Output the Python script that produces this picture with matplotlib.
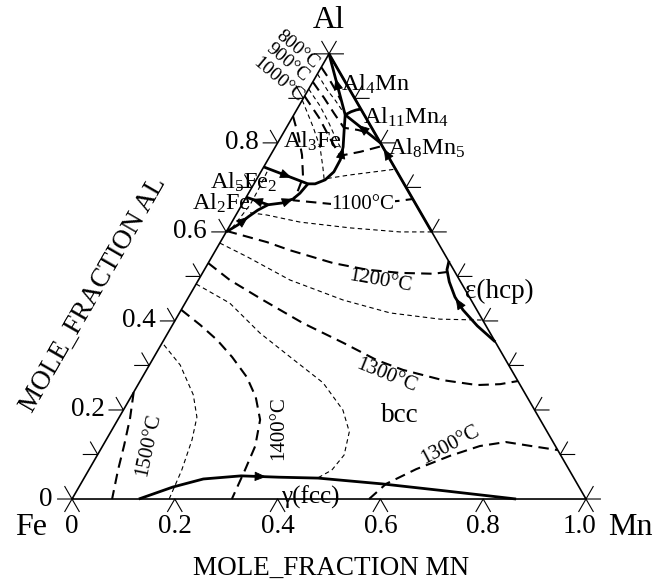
import numpy as np
import matplotlib
matplotlib.use("Agg")
import matplotlib.pyplot as plt

# ===========================
# Fonts
# ===========================

plt.rcParams["font.family"] = ["Liberation Serif", "DejaVu Serif"]
plt.rcParams["mathtext.fontset"] = "custom"
plt.rcParams["mathtext.rm"] = "Liberation Serif"
plt.rcParams["mathtext.it"] = "Liberation Serif:italic"

# ===========================
# Data  (x_Mn, x_Al)
# ===========================

# univariant (solid) lines
al_apex_mn = [0.0, 0.100]
al_apex_al = [1.0, 0.863]

al3fe_mn = [0.100, 0.115, 0.132, 0.141, 0.142, 0.134, 0.119, 0.105]
al3fe_al = [0.863, 0.829, 0.791, 0.762, 0.735, 0.717, 0.708, 0.708]

al5fe2_mn = [0.0, 0.105]
al5fe2_al = [0.746, 0.708]

bcc_top_mn = [0.105, 0.100, 0.093, 0.076, 0.051, 0.037, 0.026, 0.015, 0.0]
bcc_top_al = [0.708, 0.687, 0.674, 0.665, 0.661, 0.649, 0.634, 0.616, 0.600]

al2fe_mn = [0.051, 0.0]
al2fe_al = [0.661, 0.678]

al4mn_mn = [0.100, 0.108, 0.116, 0.124]
al4mn_al = [0.863, 0.870, 0.874, 0.876]

al8mn5_mn = [0.100, 0.200]
al8mn5_al = [0.863, 0.800]

mn_edge_mn = [0.0, 0.400]
mn_edge_al = [1.0, 0.600]

hcp_mn = [0.466, 0.472, 0.490, 0.518, 0.548, 0.594, 0.647]
hcp_al = [0.535, 0.515, 0.488, 0.454, 0.425, 0.389, 0.353]

fcc_mn = [0.130, 0.183, 0.233, 0.303, 0.378, 0.455, 0.586, 0.719, 0.864]
fcc_al = [0.0, 0.027, 0.045, 0.052, 0.049, 0.047, 0.034, 0.018, 0.0]

# labelled isotherms (thick dashed)
t800_mn = [0.0, 0.028, 0.055, 0.075]
t800_al = [0.970, 0.944, 0.917, 0.896]
t900_mn = [0.0, 0.040, 0.076, 0.112, 0.142, 0.167]
t900_al = [0.937, 0.901, 0.867, 0.834, 0.829, 0.822]
t1000_mn = [0.0, 0.053, 0.096, 0.136, 0.171, 0.207]
t1000_al = [0.905, 0.856, 0.811, 0.771, 0.780, 0.793]
t1100_mn = [0.0, 0.031, 0.061, 0.088, 0.093, 0.095, 0.171, 0.239, 0.303, 0.326]
t1100_al = [0.860, 0.818, 0.773, 0.723, 0.694, 0.671, 0.663, 0.663, 0.670, 0.674]
t1200_mn = [0.0, 0.091, 0.144, 0.243, 0.317, 0.384, 0.450, 0.475]
t1200_al = [0.602, 0.577, 0.559, 0.530, 0.515, 0.508, 0.506, 0.510]
t1300a_mn = [0.0, 0.061, 0.148, 0.252, 0.352, 0.437, 0.499, 0.588, 0.660, 0.704, 0.735]
t1300a_al = [0.530, 0.492, 0.447, 0.395, 0.351, 0.312, 0.290, 0.267, 0.256, 0.258, 0.265]
t1300b_mn = [0.578, 0.594, 0.636, 0.687, 0.734, 0.780, 0.834, 0.890]
t1300b_al = [0.0, 0.034, 0.067, 0.097, 0.119, 0.128, 0.119, 0.110]
t1400_mn = [0.0, 0.054, 0.104, 0.152, 0.203, 0.243, 0.277, 0.297, 0.304, 0.311]
t1400_al = [0.425, 0.391, 0.357, 0.319, 0.274, 0.229, 0.178, 0.119, 0.065, 0.0]
t1500_mn = [0.0, 0.022, 0.041, 0.057, 0.078]
t1500_al = [0.240, 0.182, 0.121, 0.065, 0.0]

# intermediate isotherms (thin dashed)
t850_mn = [0.0, 0.037, 0.064, 0.088]
t850_al = [0.955, 0.919, 0.896, 0.874]
t950_mn = [0.0, 0.041, 0.079, 0.109, 0.133]
t950_al = [0.921, 0.883, 0.843, 0.809, 0.784]
t1050_mn = [0.0, 0.051, 0.087, 0.115, 0.131, 0.177, 0.259]
t1050_al = [0.896, 0.836, 0.791, 0.746, 0.719, 0.728, 0.741]
t1150_mn = [0.025, 0.060, 0.133, 0.237, 0.338, 0.400]
t1150_al = [0.643, 0.638, 0.622, 0.609, 0.600, 0.600]
t1250_mn = [0.0, 0.069, 0.178, 0.304, 0.410, 0.514, 0.598]
t1250_al = [0.575, 0.544, 0.492, 0.447, 0.418, 0.404, 0.402]
t1350_mn = [0.0, 0.087, 0.179, 0.265, 0.358, 0.427, 0.464, 0.480, 0.473, 0.452]
t1350_al = [0.483, 0.440, 0.373, 0.319, 0.261, 0.200, 0.151, 0.099, 0.065, 0.045]
t1450_mn = [0.189, 0.181, 0.167, 0.151, 0.119, 0.060, 0.0]
t1450_al = [0.0, 0.065, 0.133, 0.184, 0.234, 0.301, 0.351]
fe_side_mn = [0.012, 0.015, 0.016, 0.011, 0.007]
fe_side_al = [0.735, 0.694, 0.661, 0.631, 0.609]

tick_values = [0.0, 0.2, 0.4, 0.6, 0.8, 1.0]
tick_labels = ["0", "0.2", "0.4", "0.6", "0.8", "1.0"]

# ===========================
# Helpers
# ===========================

H = np.sqrt(3) / 2


def to_xy(mn, al):
    mn = np.asarray(mn, dtype=float)
    al = np.asarray(al, dtype=float)
    return mn + 0.5 * al, H * al


def curve(ax, mn, al, **kw):
    x, y = to_xy(mn, al)
    ax.plot(x, y, color="black", solid_capstyle="butt", **kw)


def arrow(ax, mn, al, i, reverse=False):
    x, y = to_xy(mn, al)
    p0 = np.array([x[i], y[i]])
    p1 = np.array([x[i + 1], y[i + 1]])
    if reverse:
        p0, p1 = p1, p0
    mid = (p0 + p1) / 2
    d = (p1 - p0) / np.hypot(*(p1 - p0))
    ax.annotate("", xy=mid + d * 0.012, xytext=mid - d * 0.002,
                arrowprops=dict(arrowstyle="-|>,head_length=0.6,head_width=0.25",
                                color="black", lw=0.6, shrinkA=0, shrinkB=0,
                                mutation_scale=12))


thick = dict(lw=1.5, linestyle=(0, (5, 3)))
thin = dict(lw=0.8, linestyle=(0, (4, 3)))
bold = dict(lw=2.0)

# ===========================
# Figure
# ===========================

fig = plt.figure(figsize=(6.71, 5.83), dpi=100)
ax = fig.add_axes([0, 0, 1, 1])
ax.set_xlim(-0.1401, 1.1654)
ax.set_ylim(-0.1634, 0.9708)
ax.axis("off")

# triangle
curve(ax, [0, 1, 0, 0], [0, 0, 1, 0], lw=1.2)

# ticks
L = 0.028
for v in np.arange(0, 1.01, 0.2):
    ax.plot([v - 0.5 * L, v, v + 0.5 * L], [-H * L, 0, -H * L], color="black", lw=0.8)
for v in np.arange(0, 1.01, 0.1):
    x, y = to_xy(0, v)
    ax.plot([x - L, x, x - 0.5 * L], [y, y, y + H * L], color="black", lw=0.8)
    x, y = to_xy(1 - v, v)
    ax.plot([x + L, x, x + 0.5 * L], [y, y, y + H * L], color="black", lw=0.8)

# isotherms
for mn, al in [(t800_mn, t800_al), (t900_mn, t900_al), (t1000_mn, t1000_al),
               (t1100_mn, t1100_al), (t1200_mn, t1200_al), (t1300a_mn, t1300a_al),
               (t1300b_mn, t1300b_al), (t1400_mn, t1400_al), (t1500_mn, t1500_al)]:
    curve(ax, mn, al, **thick)
for mn, al in [(t850_mn, t850_al), (t950_mn, t950_al), (t1050_mn, t1050_al),
               (t1150_mn, t1150_al), (t1250_mn, t1250_al), (t1350_mn, t1350_al),
               (t1450_mn, t1450_al), (fe_side_mn, fe_side_al)]:
    curve(ax, mn, al, **thin)

# univariant lines
for mn, al in [(al_apex_mn, al_apex_al), (al3fe_mn, al3fe_al), (al5fe2_mn, al5fe2_al),
               (bcc_top_mn, bcc_top_al), (al2fe_mn, al2fe_al), (al4mn_mn, al4mn_al),
               (al8mn5_mn, al8mn5_al), (mn_edge_mn, mn_edge_al), (hcp_mn, hcp_al),
               (fcc_mn, fcc_al)]:
    curve(ax, mn, al, **bold)

arrow(ax, al_apex_mn, al_apex_al, 0, reverse=True)
arrow(ax, al3fe_mn, al3fe_al, 2, reverse=True)
arrow(ax, al5fe2_mn, al5fe2_al, 0)
arrow(ax, bcc_top_mn, bcc_top_al, 2, reverse=True)
arrow(ax, bcc_top_mn, bcc_top_al, 6, reverse=True)
arrow(ax, al2fe_mn, al2fe_al, 0)
arrow(ax, al8mn5_mn, al8mn5_al, 0, reverse=True)
arrow(ax, [0.15, 0.30], [0.85, 0.70], 0, reverse=True)
arrow(ax, hcp_mn, hcp_al, 3, reverse=True)
arrow(ax, fcc_mn, fcc_al, 3)

# ===========================
# Text
# ===========================

ax.text(0.5, 0.930, "Al", fontsize=23, ha="center", va="center")
ax.text(-0.080, -0.055, "Fe", fontsize=23, ha="center", va="center")
ax.text(1.086, -0.055, "Mn", fontsize=23, ha="center", va="center")

for v, s in zip(tick_values, tick_labels):
    if v == 1.0:
        ax.text(1.020, -0.053, s, fontsize=19.5, ha="right", va="center")
    else:
        ax.text(v, -0.053, s, fontsize=19.5, ha="center", va="center")
    x, y = to_xy(0, v)
    if v < 1.0:
        ax.text(x - 0.037, y, s, fontsize=19.5, ha="right", va="center")

ax.text(0.504, -0.134, "MOLE_FRACTION MN", fontsize=19.5, ha="center", va="center")
ax.text(0.041, 0.397, "MOLE_FRACTION AL", fontsize=19.5, ha="center", va="center",
        rotation=60)

ax.text(0.638, 0.163, "bcc", fontsize=19.5, ha="center", va="center")
ax.text(0.831, 0.403, "\u03b5(hcp)", fontsize=19.5, ha="center", va="center")
ax.text(0.463, 0.004, "\u03b3(fcc)", fontsize=18, ha="center", va="center")
ax.text(0.467, 0.695, r"Al$_\mathrm{3}$Fe", fontsize=17.5, ha="center", va="center")
ax.text(0.590, 0.807, r"Al$_\mathrm{4}$Mn", fontsize=17.5, ha="center", va="center")
ax.text(0.650, 0.743, r"Al$_\mathrm{11}$Mn$_\mathrm{4}$", fontsize=17.5, ha="center", va="center")
ax.text(0.690, 0.683, r"Al$_\mathrm{8}$Mn$_\mathrm{5}$", fontsize=17.5, ha="center", va="center")
ax.text(0.335, 0.617, r"Al$_\mathrm{5}$Fe$_\mathrm{2}$", fontsize=17.5, ha="center", va="center")
ax.text(0.290, 0.576, r"Al$_\mathrm{2}$Fe", fontsize=17.5, ha="center", va="center")

ax.text(0.438, 0.874, "800\u00b0C", fontsize=14, ha="center", va="center", rotation=-40)
ax.text(0.420, 0.848, "900\u00b0C", fontsize=14, ha="center", va="center", rotation=-40)
ax.text(0.401, 0.815, "1000\u00b0C", fontsize=14, ha="center", va="center", rotation=-40)
ax.text(0.566, 0.572, "1100\u00b0C", fontsize=15, ha="center", va="center",
        bbox=dict(facecolor="white", edgecolor="none", pad=0.5))
ax.text(0.599, 0.424, "1200\u00b0C", fontsize=15, ha="center", va="center", rotation=-10)
ax.text(0.611, 0.239, "1300\u00b0C", fontsize=15, ha="center", va="center", rotation=-22)
ax.text(0.403, 0.138, "1400\u00b0C", fontsize=15, ha="center", va="center", rotation=90)
ax.text(0.148, 0.105, "1500\u00b0C", fontsize=15, ha="center", va="center", rotation=78)
ax.text(0.735, 0.105, "1300\u00b0C", fontsize=15, ha="center", va="center", rotation=28)

fig.savefig("out.png", dpi=100)
plt.close(fig)
